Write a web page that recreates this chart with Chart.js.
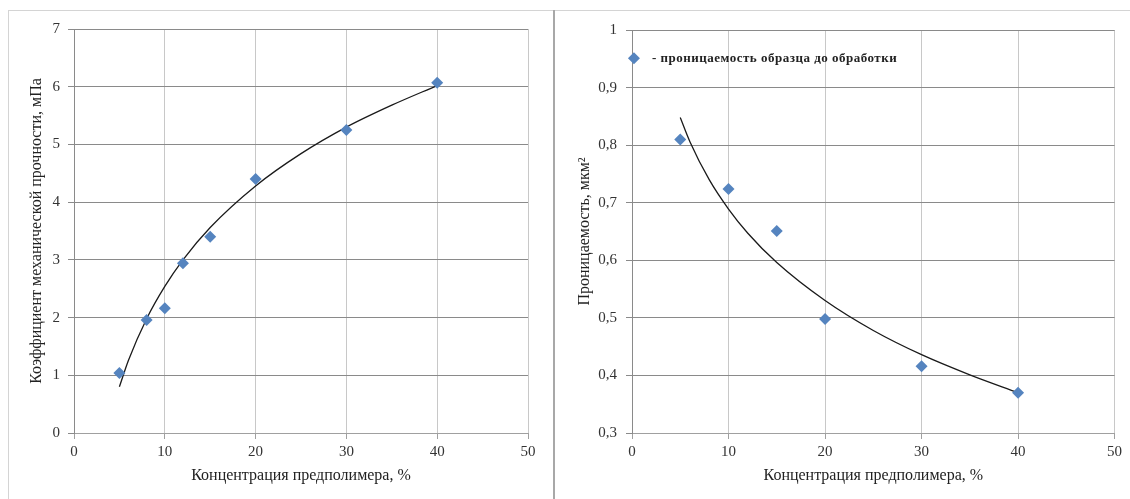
<!DOCTYPE html>
<html>
<head>
<meta charset="utf-8">
<script src="https://cdn.jsdelivr.net/npm/chart.js@4.4.1/dist/chart.umd.min.js"></script>
<style>
  html, body { margin: 0; padding: 0; background: #fff; }
  body { width: 1130px; height: 499px; position: relative; overflow: hidden; }
  .frame-top { position: absolute; left: 8px; top: 10px; width: 1122px; height: 0; border-top: 1px solid #d4d4d4; }
  .frame-left { position: absolute; left: 8px; top: 10px; width: 0; height: 489px; border-left: 1px solid #d4d4d4; }
  .divider { position: absolute; left: 553px; top: 10px; width: 2px; height: 489px; background: #a8a8a8; }
  #c1 { position: absolute; left: 9px; top: 12px; }
  #c2 { position: absolute; left: 555px; top: 12px; }
</style>
</head>
<body>
<div class="frame-top"></div>
<div class="frame-left"></div>
<div class="divider"></div>
<canvas id="c1" width="544" height="487"></canvas>
<canvas id="c2" width="575" height="487"></canvas>
<script>
// ---- data: left chart (mechanical strength coefficient) ----
const strengthX = [5, 8, 10, 12, 15, 20, 30, 40];
const strengthY = [1.04, 1.96, 2.16, 2.94, 3.40, 4.40, 5.25, 6.07];
// trend line
const strengthTrendX = [5, 6, 8, 10, 12, 15, 20, 25, 30, 35, 40];
const strengthTrendY = [0.80, 1.26, 1.98, 2.54, 3.00, 3.56, 4.28, 4.84, 5.30, 5.68, 6.02];

// ---- data: right chart (permeability) ----
const permX = [5, 10, 15, 20, 30, 40];
const permY = [0.810, 0.724, 0.651, 0.498, 0.416, 0.370];
const permTrendX = [5.0, 6, 8, 10, 12, 15, 20, 25, 30, 35, 40];
const permTrendY = [0.848, 0.806, 0.740, 0.689, 0.647, 0.596, 0.530, 0.478, 0.436, 0.401, 0.370];

const xTitle = 'Концентрация предполимера, %';
const leftYTitle = 'Коэффициент механической прочности, мПа';
const rightYTitle = 'Проницаемость, мкм²';
const legendText = '- проницаемость образца до обработки';

const markerColor = '#5584bf';
const serif = '"Liberation Serif", "Times New Roman", serif';

function pts(xs, ys) { return xs.map((x, i) => ({ x: x, y: ys[i] })); }

function makeChart(id, cfg) {
  return new Chart(document.getElementById(id), {
    type: 'scatter',
    data: {
      datasets: [
        {
          data: pts(cfg.px, cfg.py),
          pointStyle: 'rectRot',
          pointRadius: 6,
          pointHoverRadius: 6,
          backgroundColor: markerColor,
          borderColor: markerColor,
          borderWidth: 0,
          order: 1
        },
        {
          type: 'line',
          data: pts(cfg.tx, cfg.ty),
          borderColor: '#1a1a1a',
          borderWidth: 1.3,
          pointRadius: 0,
          fill: false,
          cubicInterpolationMode: 'monotone',
          order: 2
        }
      ]
    },
    options: {
      responsive: false,
      animation: false,
      events: [],
      layout: { padding: { left: 0, top: cfg.padTop, right: cfg.padRight, bottom: 0 } },
      plugins: { legend: { display: false }, tooltip: { enabled: false } },
      scales: {
        x: {
          type: 'linear',
          min: 0, max: 50,
          ticks: { stepSize: 10, color: '#333', font: { family: serif, size: 15 }, padding: 4, maxRotation: 0 },
          grid: { color: '#c8c8c8', lineWidth: 1, tickLength: 6, tickColor: '#a0a0a0' },
          border: { color: '#a0a0a0', width: 1 },
          title: { display: true, text: xTitle, color: '#222', font: { family: serif, size: 16 }, padding: { top: 0, bottom: 14 } },
          afterFit: s => { s.height = 66; }
        },
        y: {
          type: 'linear',
          min: cfg.ymin, max: cfg.ymax,
          ticks: {
            stepSize: cfg.step, color: '#333', font: { family: serif, size: 15 }, padding: cfg.tickPad,
            callback: cfg.fmt
          },
          grid: { color: '#8a8a8a', lineWidth: 1, tickLength: 6, tickColor: '#8a8a8a' },
          border: { color: '#8a8a8a', width: 1 },
          title: { display: true, text: cfg.yTitle, color: '#222', font: { family: serif, size: 16 }, padding: { top: cfg.yTitlePad, bottom: 0 } },
          afterFit: s => { s.width = cfg.yWidth; }
        }
      }
    },
    plugins: cfg.plugins || []
  });
}

makeChart('c1', {
  px: strengthX, py: strengthY, tx: strengthTrendX, ty: strengthTrendY,
  ymin: 0, ymax: 7, step: 1,
  fmt: v => String(v),
  yTitle: leftYTitle, yWidth: 65, yTitlePad: 18, tickPad: 8,
  padTop: 15.5, padRight: 25
});

const legendPlugin = {
  id: 'insideLegend',
  afterDraw(chart) {
    const ctx = chart.ctx;
    const xs = chart.scales.x, ys = chart.scales.y;
    const mx = xs.getPixelForValue(0.2);
    const my = ys.getPixelForValue(0.951);
    ctx.save();
    ctx.fillStyle = markerColor;
    ctx.beginPath();
    ctx.moveTo(mx, my - 6); ctx.lineTo(mx + 6, my); ctx.lineTo(mx, my + 6); ctx.lineTo(mx - 6, my);
    ctx.closePath(); ctx.fill();
    ctx.fillStyle = '#222';
    ctx.font = 'bold 13px ' + serif;
    try { ctx.letterSpacing = '0.5px'; } catch (e) {}
    ctx.textBaseline = 'middle';
    ctx.textAlign = 'left';
    ctx.fillText(legendText, mx + 18, my);
    ctx.restore();
  }
};

makeChart('c2', {
  px: permX, py: permY, tx: permTrendX, ty: permTrendY,
  ymin: 0.3, ymax: 1, step: 0.1,
  fmt: v => (Math.abs(v - 1) < 1e-9 ? '1' : v.toFixed(1).replace('.', ',')),
  yTitle: rightYTitle, yWidth: 77, yTitlePad: 20, tickPad: 9,
  padTop: 16.3, padRight: 15.4,
  plugins: [legendPlugin]
});
</script>
</body>
</html>
